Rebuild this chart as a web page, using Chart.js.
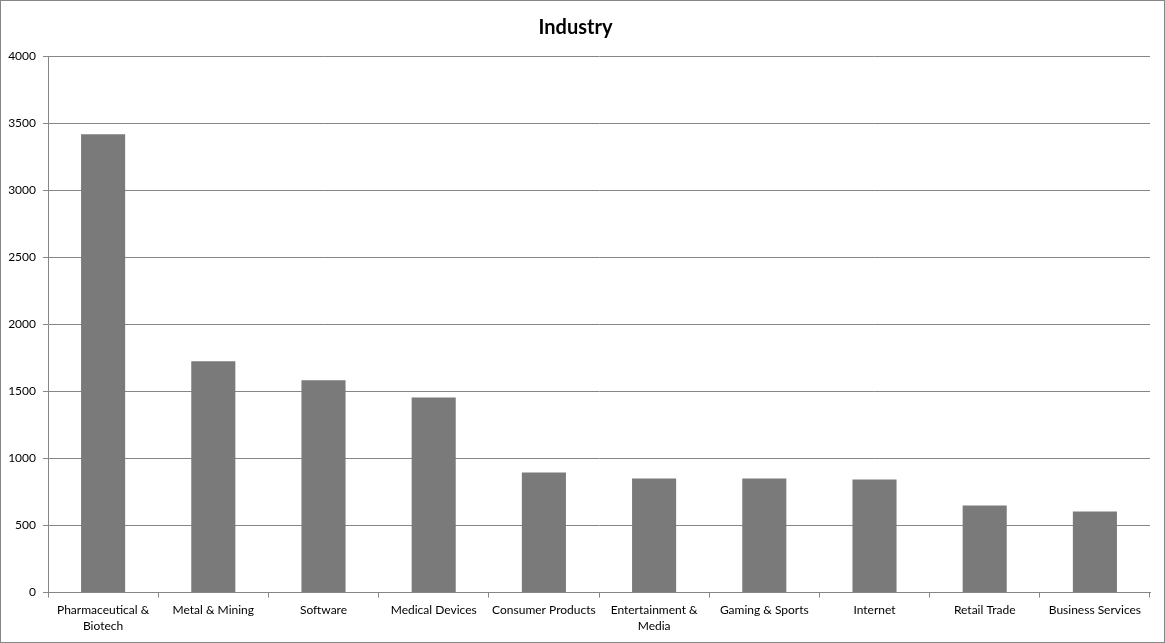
<!DOCTYPE html>
<html>
<head>
<meta charset="utf-8">
<script src="https://cdn.jsdelivr.net/npm/chart.js@4/dist/chart.umd.min.js"></script>
<style>
  html, body { margin: 0; padding: 0; background: #fff; }
  #wrap {
    width: 1165px; height: 643px;
    box-sizing: border-box;
    border: 1px solid #868686;
    position: relative;
  }
</style>
</head>
<body>
<div id="wrap"><canvas id="chart"></canvas></div>
<script>
// Data
const industries = [
    ['Pharmaceutical &', 'Biotech'],
    'Metal & Mining',
    'Software',
    'Medical Devices',
    'Consumer Products',
    ['Entertainment &', 'Media'],
    'Gaming & Sports',
    'Internet',
    'Retail Trade',
    'Business Services'
];
const counts = [3416, 1724, 1582, 1455, 896, 851, 851, 843, 649, 604];
const yTicks = [0, 500, 1000, 1500, 2000, 2500, 3000, 3500, 4000];

const lineGray = '#868686';
const barGray = '#7a7a7a';
const fontFamily = 'Lato, "Liberation Sans", sans-serif';

new Chart(document.getElementById('chart'), {
    type: 'bar',
    data: {
        labels: industries,
        datasets: [{
            label: 'Industry',
            data: counts,
            backgroundColor: barGray,
            borderWidth: 0,
            barPercentage: 0.4,
            categoryPercentage: 1.0
        }]
    },
    options: {
        responsive: true,
        maintainAspectRatio: false,
        animation: false,
        layout: { padding: { top: 0, right: 14, bottom: 4, left: 0 } },
        plugins: {
            legend: { display: false },
            tooltip: { enabled: false },
            title: {
                display: true,
                text: 'Industry',
                color: '#000',
                font: { family: fontFamily, size: 20, weight: 'bold' },
                padding: { top: 15, bottom: 16 }
            }
        },
        scales: {
            x: {
                grid: {
                    offset: true,
                    drawOnChartArea: false,
                    drawTicks: true,
                    tickLength: 5,
                    color: lineGray
                },
                border: { color: lineGray, width: 1 },
                ticks: {
                    color: '#000',
                    font: { family: fontFamily, size: 12, lineHeight: 1.35 },
                    maxRotation: 0,
                    autoSkip: false,
                    padding: 4
                }
            },
            y: {
                min: 0,
                max: 4000,
                afterFit: scale => { scale.width = 47; },
                afterBuildTicks: scale => {
                    scale.ticks = yTicks.map(v => ({ value: v }));
                },
                grid: {
                    color: lineGray,
                    tickLength: 5,
                    drawTicks: true
                },
                border: { color: lineGray, width: 1 },
                ticks: {
                    color: '#000',
                    font: { family: fontFamily, size: 12 },
                    padding: 7,
                    callback: v => String(v)
                }
            }
        }
    }
});
</script>
</body>
</html>
